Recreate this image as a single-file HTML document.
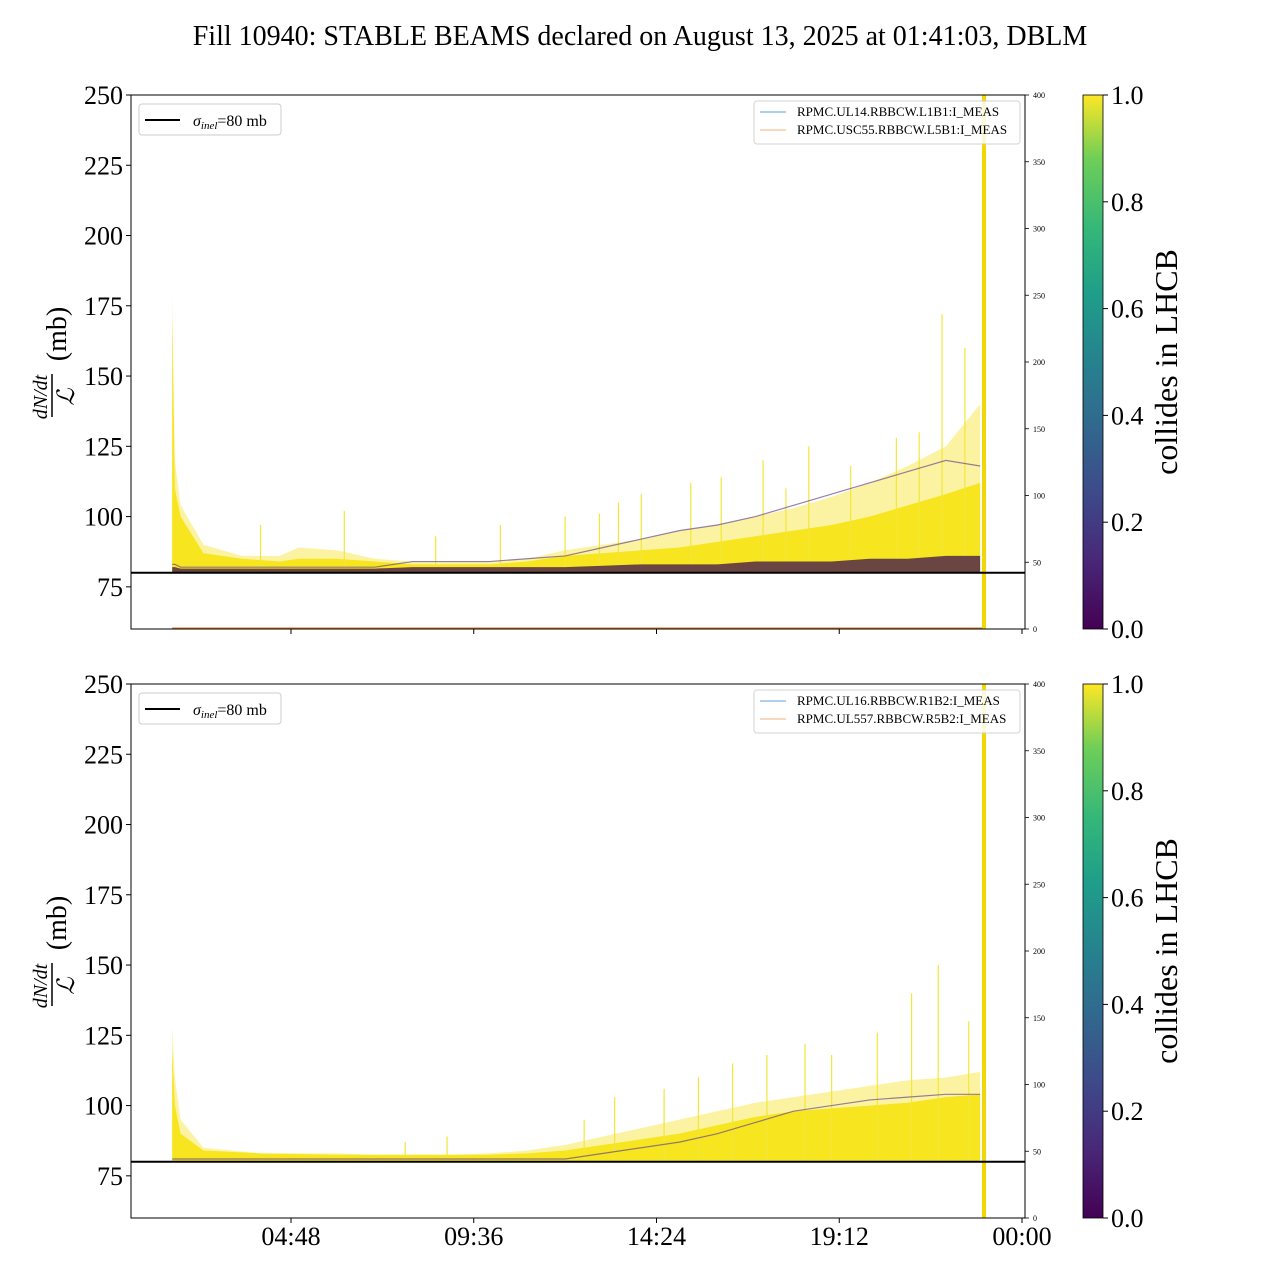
<!DOCTYPE html>
<html><head><meta charset="utf-8">
<style>
body{margin:0;background:#fff;}
svg{display:block;font-family:"Liberation Serif",serif;}
</style></head>
<body>
<svg id="chart" width="1280" height="1280" viewBox="0 0 1280 1280">
<defs>
<linearGradient id="viridis" x1="0" y1="1" x2="0" y2="0">
<stop offset="0" stop-color="#440154"/><stop offset="0.13" stop-color="#482878"/><stop offset="0.25" stop-color="#3e4989"/><stop offset="0.38" stop-color="#31688e"/><stop offset="0.5" stop-color="#26828e"/><stop offset="0.63" stop-color="#1f9e89"/><stop offset="0.75" stop-color="#35b779"/><stop offset="0.88" stop-color="#6ece58"/><stop offset="1" stop-color="#fde725"/>
</linearGradient>
</defs>
<text x="640" y="45" text-anchor="middle" font-size="28">Fill 10940: STABLE BEAMS declared on August 13, 2025 at 01:41:03, DBLM</text>
</svg>
<script>
// ---- data (hours since midnight, values in mb) ----
const topTimes   = [1.68, 1.75, 1.9, 2.5, 3.5, 4.5, 5.0, 6.0, 7.0, 8.0, 9.0, 10.0, 11.0, 12.0, 13.0, 14.0, 15.0, 16.0, 17.0, 18.0, 19.0, 20.0, 21.0, 22.0, 22.9];
const topUpper   = [180, 120, 104, 90, 86, 86, 89, 88, 85, 84, 84, 84, 85, 88, 90, 92, 95, 97, 100, 103, 107, 112, 118, 125, 140];
const topSolid   = [170, 110, 100, 87, 85, 84, 85, 85, 84, 83, 83, 83, 84, 86, 87, 88, 89, 91, 93, 95, 97, 100, 104, 108, 112];
const topPurple  = [83, 83, 82, 82, 82, 82, 82, 82, 82, 84, 84, 84, 85, 86, 89, 92, 95, 97, 100, 104, 108, 112, 116, 120, 118];
const topDark    = [82, 82, 81.5, 81.5, 81.5, 81.5, 81.5, 81.5, 81.5, 82, 82, 82, 82, 82, 82.5, 83, 83, 83, 84, 84, 84, 85, 85, 86, 86];
const topSpikeT  = [4.0, 6.2, 8.6, 10.3, 12.0, 13.4, 14.0, 15.3, 16.1, 17.2, 18.4, 19.5, 20.7, 21.3, 21.9, 22.5, 12.9, 17.8];
const topSpikeV  = [97, 102, 93, 97, 100, 105, 108, 112, 114, 120, 125, 118, 128, 130, 172, 160, 101, 110];

const botTimes   = [1.68, 1.75, 1.9, 2.5, 4.0, 6.0, 8.0, 10.0, 11.0, 12.0, 13.0, 14.0, 15.0, 16.0, 17.0, 18.0, 19.0, 20.0, 21.0, 22.0, 22.9];
const botUpper   = [128, 110, 95, 85, 83, 83, 82, 83, 84, 86, 89, 92, 95, 98, 101, 103, 105, 107, 109, 110, 112];
const botSolid   = [120, 100, 90, 84, 83, 82.5, 82.5, 82.5, 83, 84, 86, 88, 90, 93, 96, 98, 99, 100, 101, 103, 104];
const botPurple  = [81, 81, 81, 81, 81, 81, 81, 81, 81, 81, 83, 85, 87, 90, 94, 98, 100, 102, 103, 104, 104];
const botSpikeT  = [7.8, 8.9, 12.5, 13.3, 14.6, 15.5, 16.4, 17.3, 18.3, 19.0, 20.2, 21.1, 21.8, 22.6];
const botSpikeV  = [87, 89, 95, 103, 106, 110, 115, 118, 122, 118, 126, 140, 150, 130];

const yTicks  = [75, 100, 125, 150, 175, 200, 225, 250];
const xTickH  = [4.8, 9.6, 14.4, 19.2, 24];
const xTickL  = ["04:48", "09:36", "14:24", "19:12", "00:00"];
const rTicks  = [0, 50, 100, 150, 200, 250, 300, 350, 400];
const cbTicks = ["0.0", "0.2", "0.4", "0.6", "0.8", "1.0"];

const NS = "http://www.w3.org/2000/svg";
const svg = document.getElementById("chart");
function mk(tag, attrs, parent, text){
  const e = document.createElementNS(NS, tag);
  for (const k in attrs) e.setAttribute(k, attrs[k]);
  if (text !== undefined) e.textContent = text;
  (parent || svg).appendChild(e);
  return e;
}
const X0 = 131, X1 = 1025;
function xs(h){ return 291 + (h - 4.8) * 182.75 / 4.8; }

function panel(top, name, times, upper, solid, purple, dark, spT, spV, leg1, leg2, showX){
  const bot = top + 534;
  const ys = v => bot - (v - 60) * (534 / 190);
  const g = mk("g", {});
  
  
  let d = "M" + xs(times[0]) + "," + ys(80);
  times.forEach((t, i) => d += " L" + xs(t) + "," + ys(upper[i]));
  d += " L" + xs(times[times.length - 1]) + "," + ys(80) + "Z";
  const a1 = mk("path", {d: d, fill: "#fbee7a", opacity: "0.7"}, g);
  
  
  let d2 = "M" + xs(times[0]) + "," + ys(80);
  times.forEach((t, i) => d2 += " L" + xs(t) + "," + ys(solid[i]));
  d2 += " L" + xs(times[times.length - 1]) + "," + ys(80) + "Z";
  const a2 = mk("path", {d: d2, fill: "#f6e51f"}, g);
  
  
  spT.forEach((t, i) => {
    const s = mk("line", {x1: xs(t), x2: xs(t), y1: ys(80), y2: ys(spV[i]), stroke: "#f3e63a", "stroke-width": 1.2}, g);
    
    
  });
  const pp = times.map((t, i) => xs(t) + "," + ys(purple[i])).join(" ");
  const pl = mk("polyline", {points: pp, fill: "none", stroke: "#6a4a8c", "stroke-width": 1.2, opacity: "0.7"}, g);
  
  
  if (dark){
    let d3 = "M" + xs(times[0]) + "," + ys(80);
    times.forEach((t, i) => d3 += " L" + xs(t) + "," + ys(dark[i]));
    d3 += " L" + xs(times[times.length - 1]) + "," + ys(80) + "Z";
    const a3 = mk("path", {d: d3, fill: "#3b0f4f", opacity: "0.75"}, g);
    
    
  }
  const v1 = mk("rect", {x: 982, y: top, width: 4, height: 534, fill: "#f1d70a"}, g);
  
  
  if (dark){
    const o = mk("line", {x1: xs(times[0]), x2: 982, y1: bot - 1, y2: bot - 1, stroke: "#e8702a", "stroke-width": 1}, g);
    
    
  }
  const sl = mk("line", {x1: X0, x2: X1, y1: ys(80), y2: ys(80), stroke: "#000", "stroke-width": 2}, g);
  
  
  const fr = mk("rect", {x: X0, y: top, width: X1 - X0, height: 534, fill: "none", stroke: "#000", "stroke-width": 1}, g);
  
  
  yTicks.forEach(v => {
    mk("line", {x1: X0 - 5, x2: X0, y1: ys(v), y2: ys(v), stroke: "#000"}, g);
    const t = mk("text", {x: X0 - 8, y: ys(v) + 9, "text-anchor": "end", "font-size": 26}, g, String(v));
    
    
  });
  rTicks.forEach(v => {
    const y = bot - v * 534 / 400;
    mk("line", {x1: X1, x2: X1 + 4, y1: y, y2: y, stroke: "#000", "stroke-width": 0.8}, g);
    const t = mk("text", {x: X1 + 8, y: y + 3, "font-size": 8}, g, String(v));
    
    
  });
  xTickH.forEach((h, i) => {
    mk("line", {x1: xs(h), x2: xs(h), y1: bot, y2: bot + 5, stroke: "#000"}, g);
    if (showX){
      const t = mk("text", {x: xs(h), y: bot + 27, "text-anchor": "middle", "font-size": 26}, g, xTickL[i]);
      
      
    }
  });
  const yl = mk("g", {transform: "translate(60," + (top + 267) + ") rotate(-90)"}, g);
  
  
  mk("text", {x: -35, y: -13, "text-anchor": "middle", "font-size": 20, "font-style": "italic"}, yl, "dN/dt");
  mk("line", {x1: -55, x2: -12, y1: -8, y2: -8, stroke: "#000", "stroke-width": 1.5}, yl);
  mk("text", {x: -35, y: 14, "text-anchor": "middle", "font-size": 24, "font-style": "italic"}, yl, "ℒ");
  mk("text", {x: 28, y: 6, "text-anchor": "middle", "font-size": 28}, yl, "(mb)");
  const lg = mk("g", {}, g);
  
  
  mk("rect", {x: 139, y: top + 9, width: 142, height: 31, rx: 3, fill: "#fff", stroke: "#ccc"}, lg);
  mk("line", {x1: 145, x2: 180, y1: top + 25, y2: top + 25, stroke: "#000", "stroke-width": 2}, lg);
  const st = mk("text", {x: 193, y: top + 31, "font-size": 16}, lg);
  mk("tspan", {"font-style": "italic"}, st, "σ");
  mk("tspan", {"font-style": "italic", "font-size": 11, dy: 3}, st, "inel");
  mk("tspan", {dy: -3}, st, "=80 mb");
  const rg = mk("g", {}, g);
  
  
  mk("rect", {x: 754, y: top + 6, width: 266, height: 43, rx: 3, fill: "#fff", stroke: "#ccc", opacity: "0.85"}, rg);
  mk("line", {x1: 760, x2: 786, y1: top + 17, y2: top + 17, stroke: "#5fa2d9"}, rg);
  mk("line", {x1: 760, x2: 786, y1: top + 35, y2: top + 35, stroke: "#f4b07c"}, rg);
  mk("text", {x: 797, y: top + 21, "font-size": 13}, rg, leg1);
  mk("text", {x: 797, y: top + 39, "font-size": 13}, rg, leg2);
  const cb = mk("g", {}, g);
  
  
  mk("rect", {x: 1083, y: top, width: 20, height: 534, fill: "url(#viridis)", stroke: "#000", "stroke-width": 0.8}, cb);
  cbTicks.forEach((l, i) => {
    const y = bot - i * 534 / 5;
    mk("line", {x1: 1103, x2: 1108, y1: y, y2: y, stroke: "#000"}, cb);
    mk("text", {x: 1111, y: y + 9, "font-size": 26}, cb, l);
  });
  const ct = mk("text", {transform: "translate(1177," + (top + 267) + ") rotate(-90)", "text-anchor": "middle", "font-size": 32}, cb, "collides in LHCB");
  
  
}
panel(95, "top-panel", topTimes, topUpper, topSolid, topPurple, topDark, topSpikeT, topSpikeV,
  "RPMC.UL14.RBBCW.L1B1:I_MEAS", "RPMC.USC55.RBBCW.L5B1:I_MEAS", false);
panel(684, "bottom-panel", botTimes, botUpper, botSolid, botPurple, null, botSpikeT, botSpikeV,
  "RPMC.UL16.RBBCW.R1B2:I_MEAS", "RPMC.UL557.RBBCW.R5B2:I_MEAS", true);
</script>
</body></html>
